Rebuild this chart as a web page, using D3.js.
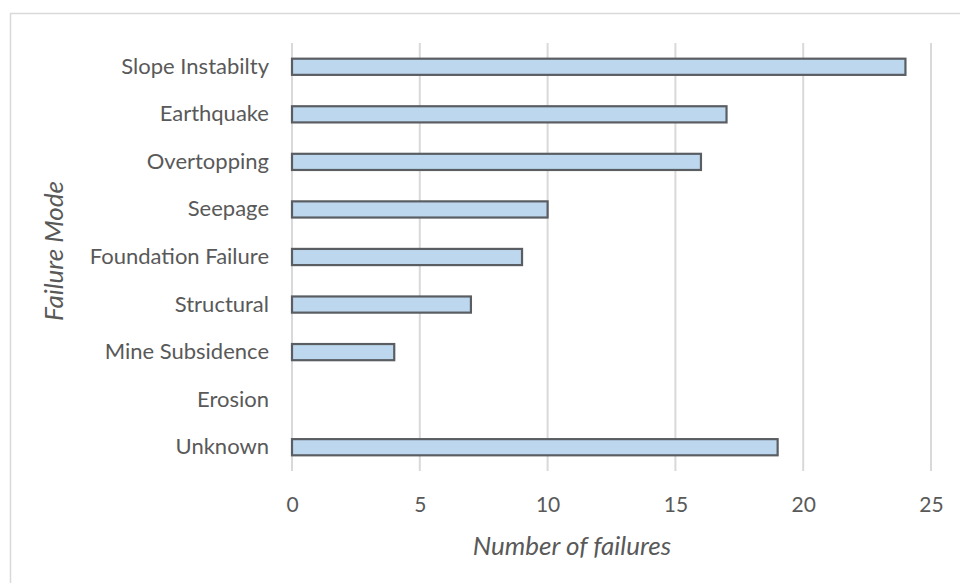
<!DOCTYPE html>
<html>
<head>
<meta charset="utf-8">
<script src="https://cdn.jsdelivr.net/npm/d3@7"></script>
<style>
  html, body { margin: 0; padding: 0; background: #fff; }
  svg { display: block; }
</style>
</head>
<body>
<svg id="chart" width="960" height="583"></svg>
<script>
// Failure modes and counts
const categories = ["Slope Instabilty", "Earthquake", "Overtopping", "Seepage", "Foundation Failure", "Structural", "Mine Subsidence", "Erosion", "Unknown"];
const failures = [24, 17, 16, 10, 9, 7, 4, 0, 19];
const xTicks = [0, 5, 10, 15, 20, 25];
const xTitle = "Number of failures";
const yTitle = "Failure Mode";

const svg = d3.select("#chart");
const font = "Lato, 'Open Sans', sans-serif";
const textColor = "#595959";

// outer chart frame
svg.append("rect")
  .attr("x", 10.5).attr("y", 13.5)
  .attr("width", 960).attr("height", 600)
  .attr("fill", "#fff")
  .attr("stroke", "#d9d9d9").attr("stroke-width", 1.5);

const x = d3.scaleLinear().domain([0, 25]).range([292, 931]);
const y = d3.scaleBand().domain(categories).range([43, 471]).paddingInner(0.66).paddingOuter(0.33);

// vertical gridlines
svg.append("g").selectAll("line")
  .data(xTicks)
  .join("line")
  .attr("x1", d => x(d)).attr("x2", d => x(d))
  .attr("y1", 43).attr("y2", 471)
  .attr("stroke", "#d9d9d9").attr("stroke-width", 2);

// x tick labels
const xAxis = d3.axisBottom(x).tickValues(xTicks).tickSize(0).tickPadding(0);
const gx = svg.append("g").attr("transform", "translate(0,497)").call(xAxis);
gx.select(".domain").remove();
gx.selectAll("text")
  .attr("font-family", font).attr("font-size", 21).attr("fill", textColor)
  .attr("dy", "0.71em");

// category labels
const yAxis = d3.axisLeft(y).tickSize(0).tickPadding(0);
const gy = svg.append("g").attr("transform", "translate(269,0)").call(yAxis);
gy.select(".domain").remove();
gy.selectAll("text")
  .attr("font-family", font).attr("font-size", 22).attr("fill", textColor);

// bars
svg.append("g").selectAll("rect")
  .data(categories.map((c, i) => ({ c, v: failures[i] })).filter(d => d.v > 0))
  .join("rect")
  .attr("x", x(0))
  .attr("y", d => y(d.c))
  .attr("width", d => x(d.v) - x(0))
  .attr("height", y.bandwidth())
  .attr("fill", "#bdd7ee")
  .attr("stroke", "#5a5e63").attr("stroke-width", 2.2);

// axis titles
svg.append("text")
  .attr("x", 572).attr("y", 555)
  .attr("text-anchor", "middle")
  .attr("font-family", font).attr("font-size", 26).attr("font-style", "italic")
  .attr("fill", textColor)
  .text(xTitle);

svg.append("text")
  .attr("transform", "translate(63,251) rotate(-90)")
  .attr("text-anchor", "middle")
  .attr("font-family", font).attr("font-size", 26).attr("font-style", "italic")
  .attr("fill", textColor)
  .text(yTitle);
</script>
</body>
</html>
